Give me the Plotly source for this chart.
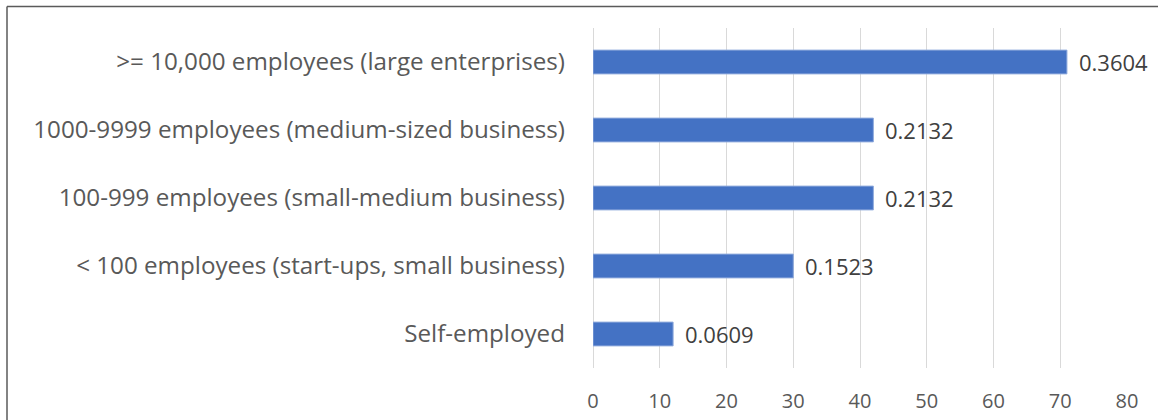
import plotly.graph_objects as go

# Respondents by organisation size (counts), listed bottom to top
categories = [
    "Self-employed",
    "< 100 employees (start-ups, small business)",
    "100-999 employees (small-medium business)",
    "1000-9999 employees (medium-sized business)",
    ">= 10,000 employees (large enterprises)",
]
counts = [12, 30, 42, 42, 71]
x_ticks = [0, 10, 20, 30, 40, 50, 60, 70, 80]

total = sum(counts)
shares = [f"{c / total:.4f}" for c in counts]

FONT = "Open Sans"
GREY_TEXT = "#595959"

fig = go.Figure(
    go.Bar(
        x=counts,
        y=categories,
        orientation="h",
        width=0.35,
        marker=dict(color="#4472C4", line=dict(color="#8FAADC", width=1)),
        cliponaxis=False,
    )
)

# Share labels just past the end of each bar
for cat, cnt, share in zip(categories, counts, shares):
    fig.add_annotation(
        x=cnt, y=cat, xref="x", yref="y",
        text=share, showarrow=False,
        xanchor="left", yanchor="middle", xshift=10,
        font=dict(family=FONT, size=22, color="#404040"),
    )

# Plot-area geometry in pixels
W, H = 1158, 420
L, R, T, B = 593, 31, 28, 52
pw, ph = W - L - R, H - T - B


def px_x(px):
    return (px - L) / pw


def px_y(py):
    return (H - B - py) / ph


# Frame edges along the top and left of the figure
fig.add_shape(type="line", xref="paper", yref="paper",
              x0=px_x(7), x1=px_x(W + 5), y0=px_y(6.5), y1=px_y(6.5),
              line=dict(color="#5a5a5a", width=1.5))
fig.add_shape(type="line", xref="paper", yref="paper",
              x0=px_x(7), x1=px_x(7), y0=px_y(6.5), y1=px_y(H + 5),
              line=dict(color="#5a5a5a", width=1.5))

fig.update_layout(
    width=W,
    height=H,
    margin=dict(l=L, r=R, t=T, b=B, pad=0, autoexpand=False),
    paper_bgcolor="white",
    plot_bgcolor="white",
    showlegend=False,
    font=dict(family=FONT, color=GREY_TEXT),
    xaxis=dict(
        range=[0, 80],
        tickvals=x_ticks,
        showgrid=True,
        gridcolor="#D9D9D9",
        gridwidth=1,
        zeroline=True,
        zerolinecolor="#D9D9D9",
        zerolinewidth=1,
        showline=False,
        tickfont=dict(family=FONT, size=20, color=GREY_TEXT),
        ticklabelstandoff=19,
        automargin=False,
        fixedrange=True,
    ),
    yaxis=dict(
        categoryorder="array",
        categoryarray=categories,
        showgrid=False,
        showline=False,
        zeroline=False,
        tickfont=dict(family=FONT, size=24.2, color=GREY_TEXT),
        ticklabelstandoff=27,
        automargin=False,
        fixedrange=True,
    ),
)

fig.write_html("out.html", config={"displayModeBar": False})
